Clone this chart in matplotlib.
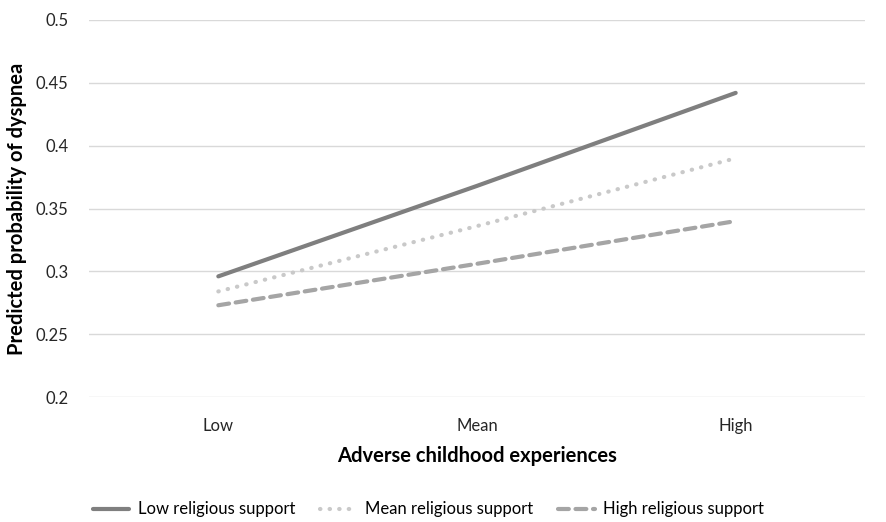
import matplotlib.pyplot as plt

categories = ['Low', 'Mean', 'High']
low_support = [0.296, 0.368, 0.442]
mean_support = [0.284, 0.336, 0.390]
high_support = [0.273, 0.306, 0.340]
series_names = ['Low religious support', 'Mean religious support', 'High religious support']
yticks = [0.2, 0.25, 0.3, 0.35, 0.4, 0.45, 0.5]
ytick_labels = ['0.2', '0.25', '0.3', '0.35', '0.4', '0.45', '0.5']

plt.rcParams['font.family'] = ['Lato', 'DejaVu Sans']

fig = plt.figure(figsize=(8.87, 5.22), dpi=100)
ax = fig.add_axes([89 / 887, 1 - 397 / 522, 776 / 887, 377 / 522])

x = range(len(categories))
ax.plot(x, low_support, color='#7f7f7f', lw=3, solid_capstyle='round', label=series_names[0])
ax.plot(x, mean_support, color='#c9c9c9', lw=3, linestyle=(0, (0.1, 2.2)), dash_capstyle='round', label=series_names[1])
ax.plot(x, high_support, color='#a5a5a5', lw=3, linestyle=(0, (2.6, 1.6)), dash_capstyle='round', label=series_names[2])

ax.set_xlim(-0.5, 2.5)
ax.set_ylim(0.2, 0.5)
ax.set_yticks(yticks)
ax.set_yticklabels(ytick_labels)
ax.set_xticks(list(x))
ax.set_xticklabels(categories)
ax.yaxis.grid(True, color='#d9d9d9', lw=1)
ax.set_axisbelow(True)
for s in ax.spines.values():
    s.set_visible(False)
ax.tick_params(length=0, labelsize=12, pad=15)
ax.tick_params(axis='y', pad=15)
for t in ax.get_xticklabels() + ax.get_yticklabels():
    t.set_color('#262626')

ax.set_xlabel('Adverse childhood experiences', fontsize=14.5, fontweight='bold', labelpad=9)
ax.set_ylabel('Predicted probability of dyspnea', fontsize=14.5, fontweight='bold', labelpad=6)

fig.legend(loc='lower center', bbox_to_anchor=(0.483, -0.02), ncol=3, frameon=False,
           fontsize=12, handlelength=2.2, columnspacing=1.5, handletextpad=0.5)

fig.savefig('out.png', dpi=100)
